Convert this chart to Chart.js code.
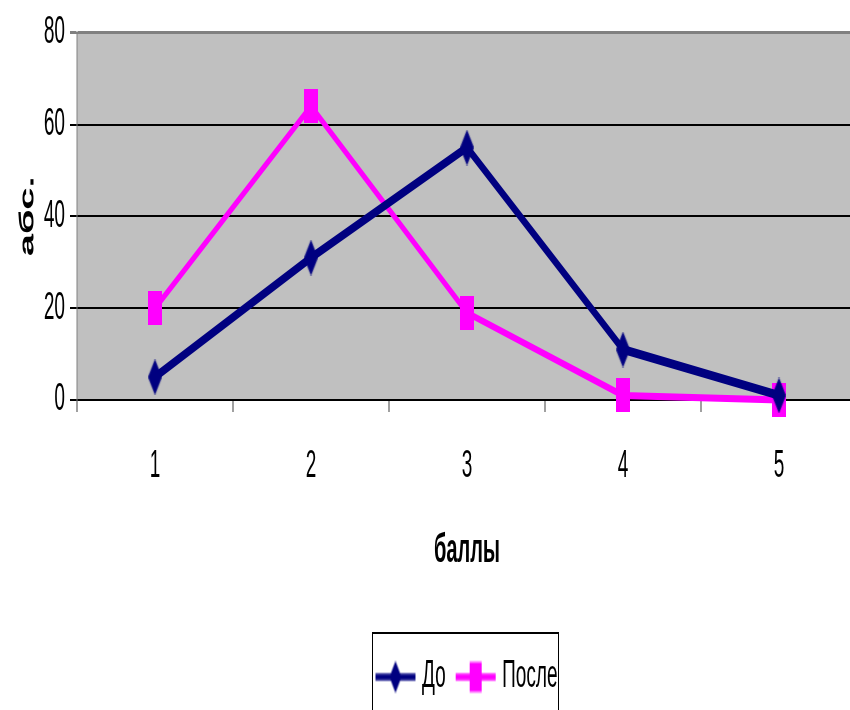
<!DOCTYPE html>
<html>
<head>
<meta charset="utf-8">
<script src="https://cdn.jsdelivr.net/npm/chart.js@4"></script>
<style>
  body { margin: 0; background: #fff; }
</style>
</head>
<body>
<canvas id="chart" width="850" height="355" style="display:block;width:850px;height:710px"></canvas>
<script>
const categories = ["1", "2", "3", "4", "5"];
const beforeValues = [5, 31, 55, 11, 1];
const afterValues = [20, 64, 19, 1, 0];
const yTicks = [0, 20, 40, 60, 80];
const seriesNames = ["До", "После"];
const xTitle = "баллы";
const yTitle = "абс.";

const navy = "#000080";
const magenta = "#FF00FF";

// the original picture is stretched 2x vertically, so the chart is laid out
// at half height and the canvas is shown at double height
Chart.defaults.font.family = "'Liberation Sans', Arial, sans-serif";
Chart.defaults.color = "#000";

const makeDiamond = (ctx, cx, cy, w, h, color) => {
  ctx.fillStyle = color;
  ctx.beginPath();
  ctx.moveTo(cx, cy - h / 2);
  ctx.lineTo(cx + w / 2, cy);
  ctx.lineTo(cx, cy + h / 2);
  ctx.lineTo(cx - w / 2, cy);
  ctx.closePath();
  ctx.fill();
};

const makeSquare = (ctx, cx, cy, w, h, color) => {
  ctx.fillStyle = color;
  ctx.fillRect(cx - w / 2, cy - h / 2, w, h);
};

const markerCanvas = (w, h, draw, color) => {
  const c = document.createElement("canvas");
  c.width = w;
  c.height = h;
  draw(c.getContext("2d"), w / 2, h / 2, w, h, color);
  return c;
};

const legendSample = (draw, color, mw, mh) => {
  const c = document.createElement("canvas");
  c.width = 42;
  c.height = 18;
  const ctx = c.getContext("2d");
  ctx.strokeStyle = color;
  ctx.lineWidth = 3.5;
  ctx.beginPath();
  ctx.moveTo(1, 9);
  ctx.lineTo(41, 9);
  ctx.stroke();
  draw(ctx, 21, 9, mw, mh, color);
  return c;
};

const diamondMarker = markerCanvas(14, 18, makeDiamond, navy);
const squareMarker = markerCanvas(14, 17, makeSquare, magenta);
const legendSamples = [
  legendSample(makeDiamond, navy, 12, 16),
  legendSample(makeSquare, magenta, 12, 15),
];

const plotBackground = {
  id: "plotBackground",
  beforeDraw(chart) {
    const { ctx, chartArea } = chart;
    ctx.save();
    ctx.fillStyle = "#C0C0C0";
    ctx.fillRect(chartArea.left, chartArea.top, chartArea.right - chartArea.left, chartArea.bottom - chartArea.top);
    ctx.restore();
  },
};

// the plot area in the picture runs past the right edge of the image
const plotRight = 857;

const layoutTweaks = {
  id: "layoutTweaks",
  afterLayout(chart) {
    const x = chart.scales.x;
    x.right = plotRight;
    x.width = x.right - x.left;
    x.configure();
    chart.chartArea.right = plotRight;
    chart.chartArea.width = plotRight - chart.chartArea.left;

    const lg = chart.legend;
    const pad = lg.options.labels.padding;
    const x0 = (lg.left + pad + lg.right - lg.lineWidths[0]) / 2;
    const dx = 378.5 - x0;
    lg.left += dx;
    lg.right += dx;
  },
  afterDraw(chart) {
    const ctx = chart.ctx;
    ctx.save();
    ctx.strokeStyle = "#000";
    ctx.lineWidth = 1;
    ctx.strokeRect(372.5, 316.5, 186, 50);
    ctx.restore();
  },
};

new Chart(document.getElementById("chart"), {
  type: "line",
  data: {
    labels: categories,
    datasets: [
      {
        label: seriesNames[0],
        data: beforeValues,
        borderColor: navy,
        backgroundColor: navy,
        borderWidth: 4.5,
        pointStyle: diamondMarker,
        pointRadius: 8,
        tension: 0,
        clip: false,
      },
      {
        label: seriesNames[1],
        data: afterValues,
        borderColor: magenta,
        backgroundColor: magenta,
        borderWidth: 3.5,
        pointStyle: squareMarker,
        pointRadius: 8,
        tension: 0,
        clip: false,
      },
    ],
  },
  options: {
    responsive: false,
    devicePixelRatio: 2,
    animation: false,
    layout: { padding: { top: 14, left: 0, right: 0, bottom: -3 } },
    plugins: {
      tooltip: { enabled: false },
      legend: {
        position: "bottom",
        labels: {
          usePointStyle: true,
          pointStyleWidth: 34,
          padding: 13,
          color: "#000",
          font: { size: 19 },
          generateLabels(chart) {
            const items = Chart.defaults.plugins.legend.labels.generateLabels(chart);
            items.forEach((it, i) => { it.pointStyle = legendSamples[i]; });
            return items;
          },
        },
      },
    },
    scales: {
      x: {
        offset: true,
        afterFit: (scale) => {
          scale.height = 116;
          scale.paddingLeft = 0;
          scale.paddingRight = 0;
        },
        grid: {
          offset: true,
          drawOnChartArea: false,
          drawTicks: true,
          tickLength: 6,
          color: "#404040",
          lineWidth: 1,
        },
        border: { display: true, color: "#000", width: 1 },
        ticks: { padding: 16, font: { size: 19 }, color: "#000" },
        title: {
          display: true,
          text: xTitle,
          color: "#000",
          font: { size: 20, weight: "bold" },
          padding: { top: 0, bottom: 28.5 },
        },
      },
      y: {
        min: 0,
        max: 80,
        afterFit: (scale) => { scale.width = 77; },
        afterBuildTicks: (scale) => { scale.ticks = yTicks.map((v) => ({ value: v })); },
        grid: {
          color: (c) => (c.tick && c.tick.value === 80 ? "#808080" : "#000"),
          lineWidth: (c) => (c.tick && c.tick.value === 80 ? 1.5 : 1),
          tickLength: 7,
        },
        border: { display: true, color: "#808080", width: 1 },
        ticks: { padding: 5, font: { size: 19 }, color: "#000" },
        title: {
          display: true,
          text: yTitle,
          color: "#000",
          font: { size: 20, weight: "bold" },
          padding: { top: 16, bottom: 4 },
        },
      },
    },
  },
  plugins: [plotBackground, layoutTweaks],
});
</script>
</body>
</html>
